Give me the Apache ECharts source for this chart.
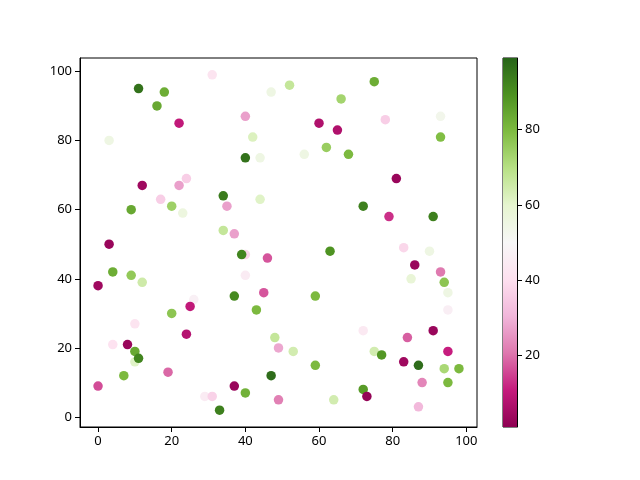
<!DOCTYPE html>
<html>
<head>
<meta charset="utf-8">
<script src="https://cdn.jsdelivr.net/npm/echarts@6/dist/echarts.min.js"></script>
<style>html,body{margin:0;padding:0;background:#fff}#c{width:640px;height:480px}</style>
</head>
<body>
<div id="c"></div>
<script>
const xs = [31,11,18,16,47,22,40,3,42,40,44,24,22,12,17,20,23,9,34,35,44,34,37,3,
  52,75,66,78,93,60,65,93,62,56,68,81,72,79,91,
  40,39,46,4,9,12,0,40,37,45,43,26,25,20,10,24,4,8,10,10,11,7,19,0,37,40,29,31,33,47,48,49,49,
  63,83,90,86,93,85,94,95,95,59,72,91,84,95,53,75,77,83,87,94,98,59,88,95,72,73,64,87];
const ys = [99,95,94,90,94,85,87,80,81,75,75,69,67,67,63,61,59,60,64,61,63,54,53,50,
  96,97,92,86,87,85,83,81,78,76,76,69,61,58,58,
  47,47,46,42,41,39,38,41,35,36,31,34,32,30,27,24,21,21,19,16,17,12,13,9,9,7,6,6,2,12,23,20,5,
  48,49,48,44,42,40,39,36,31,35,25,25,23,19,19,19,18,16,15,14,14,15,10,10,8,6,5,3];
const cs = [42,96,83,84,55,10,27,55,62,96,55,36,27,4,36,74,56,84,94,27,61,67,27,3,
  67,83,73,36,53,7,7,79,75,55,80,3,93,13,93,
  38,92,17,83,76,65,4,45,91,17,80,47,10,77,42,8,41,3,84,61,92,80,19,16,3,82,45,37,93,97,67,28,22,
  89,38,55,3,21,58,77,55,46,80,44,3,18,11,64,64,88,4,97,72,80,80,23,80,87,2,64,31];
const xTicks = [0,20,40,60,80,100];
const yTicks = [0,20,40,60,80,100];
const cbTicks = [20,40,60,80];
const cMin = 1, cMax = 99;
const piyg = ['#8e0152','#c51b7d','#de77ae','#f1b6da','#fde0ef','#f7f7f7','#e6f5d0','#b8e186','#7fbc41','#4d9221','#276419'];

const pts = xs.map((x,i)=>[x, ys[i], cs[i]]);
const font = {color:'#000', fontFamily:'Noto Sans', fontSize:13};
const axisCommon = {
  axisLine:{show:true, onZero:false, lineStyle:{color:'#000', width:1}},
  splitLine:{show:false}
};
const chart = echarts.init(document.getElementById('c'), null, {renderer:'canvas'});
chart.setOption({
  animation:false,
  backgroundColor:'#fff',
  grid:[
    {left:80, top:58, width:397, height:369, show:true, borderColor:'#000', borderWidth:1, containLabel:false},
    {left:503, top:58, width:14, height:369, show:true, borderColor:'#000', borderWidth:1, containLabel:false}
  ],
  xAxis:[
    Object.assign({type:'value', gridIndex:0, min:-4.9, max:102.9,
      axisLabel:Object.assign({margin:8, customValues:xTicks}, font)}, axisCommon,
      {axisTick:{show:true, length:5, lineStyle:{color:'#000'}, customValues:xTicks}}),
    {type:'value', gridIndex:1, min:0, max:1, show:false}
  ],
  yAxis:[
    Object.assign({type:'value', gridIndex:0, min:-2.85, max:103.85,
      axisLabel:Object.assign({margin:8, customValues:yTicks}, font)}, axisCommon,
      {axisTick:{show:true, length:5, lineStyle:{color:'#000'}, customValues:yTicks}}),
    Object.assign({type:'value', gridIndex:1, min:cMin, max:cMax, position:'right',
      axisLabel:Object.assign({margin:8, customValues:cbTicks}, font)}, axisCommon,
      {axisTick:{show:true, length:5, lineStyle:{color:'#000'}, customValues:cbTicks}})
  ],
  visualMap:{type:'continuous', show:false, min:cMin, max:cMax, dimension:2, seriesIndex:0,
    inRange:{color:piyg}},
  series:[
    {type:'scatter', xAxisIndex:0, yAxisIndex:0, data:pts, symbolSize:9.5, itemStyle:{opacity:1}},
    {type:'custom', xAxisIndex:1, yAxisIndex:1, data:[[0, cMin, 1, cMax]],
      renderItem:function(params, api){
        const a = api.coord([api.value(0), api.value(1)]);
        const b = api.coord([api.value(2), api.value(3)]);
        const stops = piyg.map((c,i)=>({offset:i/(piyg.length-1), color:c}));
        return {type:'rect', shape:{x:a[0], y:b[1], width:b[0]-a[0], height:a[1]-b[1]},
          style:{fill:new echarts.graphic.LinearGradient(0,1,0,0,stops)}};
      }}
  ]
});
</script>
</body>
</html>
